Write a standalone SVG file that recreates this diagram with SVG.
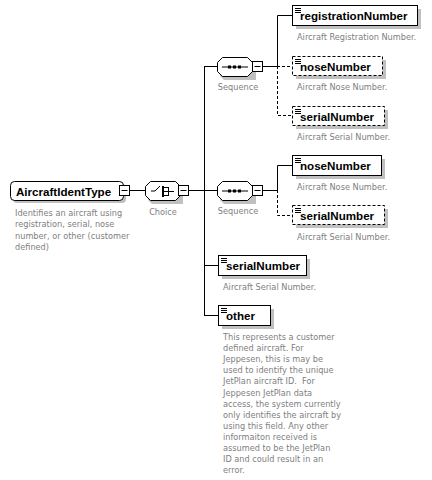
<svg xmlns="http://www.w3.org/2000/svg" width="432" height="480" viewBox="0 0 432 480">
<style>
.sh{fill:#c0c0c0;stroke:none}
.box{fill:#fff;stroke:#000;stroke-width:1}
.opt{fill:#fff;stroke:#000;stroke-width:1;stroke-dasharray:3,2}
.lbl{font-family:"Liberation Sans",Arial,sans-serif;font-weight:bold;font-size:11.6px;fill:#000}
.desc{font-family:"DejaVu Sans",Verdana,sans-serif;font-size:8.2px;fill:#808080}
.ln{stroke:#000;stroke-width:1;fill:none}
.dl{stroke:#000;stroke-width:1;fill:none;stroke-dasharray:3,2}
.ic{stroke:#000;stroke-width:1}
</style>
<defs>
<g id="mn"><rect x="0.5" y="0.5" width="10" height="10" class="box"/><line x1="2.5" y1="5.5" x2="8.5" y2="5.5" class="ic"/></g>
<g id="eq"><line x1="0" y1="0.5" x2="6" y2="0.5" class="ic"/><line x1="0" y1="2.5" x2="6" y2="2.5" class="ic"/><line x1="0" y1="4.5" x2="6" y2="4.5" class="ic"/></g>
</defs>

<g id="connectors">
<line x1="129" y1="190.5" x2="145" y2="190.5" class="ln"/>
<line x1="188" y1="190.5" x2="217" y2="190.5" class="ln"/>
<line x1="204.5" y1="66" x2="204.5" y2="316" class="ln"/>
<line x1="204" y1="66.5" x2="217" y2="66.5" class="ln"/>
<line x1="204" y1="265.5" x2="218" y2="265.5" class="ln"/>
<line x1="204" y1="315.5" x2="218" y2="315.5" class="ln"/>
<line x1="262" y1="66.5" x2="277" y2="66.5" class="ln"/>
<polyline points="277.5,66 277.5,15.5 292,15.5" class="ln"/>
<line x1="277" y1="66.5" x2="292" y2="66.5" class="dl"/>
<polyline points="277.5,66 277.5,115.5 292,115.5" class="dl"/>
<line x1="262" y1="190.5" x2="277" y2="190.5" class="ln"/>
<polyline points="277.5,190 277.5,165.5 292,165.5" class="ln"/>
<polyline points="277.5,190 277.5,215.5 292,215.5" class="dl"/>
</g>

<g id="AircraftIdentType">
<rect x="13" y="184" width="113" height="19" rx="4" class="sh"/>
<rect x="10.5" y="181.5" width="113" height="19" rx="4" class="box"/>
<text x="16" y="195.5" class="lbl">AircraftIdentType</text>
<use href="#mn" x="119" y="185"/>
<text class="desc"><tspan x="15" y="216">Identifies an aircraft using</tspan><tspan x="15" y="227.3">registration, serial, nose</tspan><tspan x="15" y="238.6">number, or other (customer</tspan><tspan x="15" y="249.9">defined)</tspan></text>
</g>

<g id="choice">
<polygon points="152,185 183,185 183,204 152,204 148,200 148,189" class="sh"/>
<polygon points="150.5,181.5 175.5,181.5 180.5,186.5 180.5,195.5 175.5,200.5 150.5,200.5 145.5,195.5 145.5,186.5" class="box"/>
<line x1="151" y1="191" x2="155" y2="191" class="ic"/>
<line x1="155" y1="191" x2="160" y2="186" class="ic"/>
<line x1="163" y1="187.5" x2="168" y2="187.5" class="ic"/>
<line x1="163" y1="191.5" x2="168" y2="191.5" class="ic"/>
<line x1="163" y1="195.5" x2="168" y2="195.5" class="ic"/>
<rect x="162" y="186" width="2" height="11" fill="#000"/>
<line x1="168.5" y1="187" x2="168.5" y2="196" class="ic"/>
<line x1="168" y1="191.5" x2="174" y2="191.5" class="ic"/>
<use href="#mn" x="178" y="185"/>
<text x="163" y="215" text-anchor="middle" class="desc">Choice</text>
</g>

<g id="sequence1">
<polygon points="224,61 256,61 256,80 224,80 220,76 220,65" class="sh"/>
<polygon points="222.5,57.5 247.5,57.5 252.5,62.5 252.5,71.5 247.5,76.5 222.5,76.5 217.5,71.5 217.5,62.5" class="box"/>
<line x1="222" y1="67" x2="248" y2="67" class="ic"/>
<rect x="228" y="65.5" width="3" height="3" fill="#000"/><rect x="233" y="65.5" width="3" height="3" fill="#000"/><rect x="238" y="65.5" width="3" height="3" fill="#000"/>
<use href="#mn" x="252" y="61"/>
<text x="238" y="90" text-anchor="middle" class="desc">Sequence</text>
</g>

<g id="registrationNumber">
<rect x="296" y="9" width="125" height="20" class="sh"/>
<rect x="292.5" y="5.5" width="125" height="20" class="box"/>
<use href="#eq" x="295" y="8"/>
<text x="300" y="20" class="lbl">registrationNumber</text>
<text x="297" y="40" class="desc">Aircraft Registration Number.</text>
</g>

<g id="noseNumber1">
<rect x="296" y="60" width="90" height="19" class="sh"/>
<rect x="292.5" y="56.5" width="90" height="19" class="opt"/>
<use href="#eq" x="295" y="59"/>
<text x="300" y="70.5" class="lbl">noseNumber</text>
<text x="297" y="90" class="desc">Aircraft Nose Number.</text>
</g>

<g id="serialNumber1">
<rect x="296" y="110" width="92" height="19" class="sh"/>
<rect x="292.5" y="106.5" width="92" height="19" class="opt"/>
<use href="#eq" x="295" y="109"/>
<text x="300" y="120.5" class="lbl">serialNumber</text>
<text x="297" y="140" class="desc">Aircraft Serial Number.</text>
</g>

<g id="sequence2">
<polygon points="224,185 256,185 256,204 224,204 220,200 220,189" class="sh"/>
<polygon points="222.5,181.5 247.5,181.5 252.5,186.5 252.5,195.5 247.5,200.5 222.5,200.5 217.5,195.5 217.5,186.5" class="box"/>
<line x1="222" y1="191" x2="248" y2="191" class="ic"/>
<rect x="228" y="189.5" width="3" height="3" fill="#000"/><rect x="233" y="189.5" width="3" height="3" fill="#000"/><rect x="238" y="189.5" width="3" height="3" fill="#000"/>
<use href="#mn" x="252" y="185"/>
<text x="238" y="214" text-anchor="middle" class="desc">Sequence</text>
</g>

<g id="noseNumber2">
<rect x="296" y="159" width="89" height="20" class="sh"/>
<rect x="292.5" y="155.5" width="89" height="20" class="box"/>
<use href="#eq" x="295" y="158"/>
<text x="300" y="170" class="lbl">noseNumber</text>
<text x="297" y="190" class="desc">Aircraft Nose Number.</text>
</g>

<g id="serialNumber2">
<rect x="296" y="209" width="92" height="19" class="sh"/>
<rect x="292.5" y="205.5" width="92" height="19" class="opt"/>
<use href="#eq" x="295" y="208"/>
<text x="300" y="219.5" class="lbl">serialNumber</text>
<text x="297" y="240" class="desc">Aircraft Serial Number.</text>
</g>

<g id="serialNumber3">
<rect x="222" y="259" width="88" height="20" class="sh"/>
<rect x="218.5" y="255.5" width="88" height="20" class="box"/>
<use href="#eq" x="221" y="258"/>
<text x="226" y="270" class="lbl">serialNumber</text>
<text x="223" y="290" class="desc">Aircraft Serial Number.</text>
</g>

<g id="other">
<rect x="222" y="309" width="52" height="20" class="sh"/>
<rect x="218.5" y="305.5" width="52" height="20" class="box"/>
<use href="#eq" x="221" y="308"/>
<text x="226" y="320" class="lbl">other</text>
<text class="desc"><tspan x="223" y="340">This represents a customer</tspan><tspan x="223" y="351.1">defined aircraft. For</tspan><tspan x="223" y="362.2">Jeppesen, this is may be</tspan><tspan x="223" y="373.3">used to identify the unique</tspan><tspan x="223" y="384.4">JetPlan aircraft ID.&#160; For</tspan><tspan x="223" y="395.5">Jeppesen JetPlan data</tspan><tspan x="223" y="406.6">access, the system currently</tspan><tspan x="223" y="417.7">only identifies the aircraft by</tspan><tspan x="223" y="428.8">using this field. Any other</tspan><tspan x="223" y="439.9">informaiton received is</tspan><tspan x="223" y="451">assumed to be the JetPlan</tspan><tspan x="223" y="462.1">ID and could result in an</tspan><tspan x="223" y="473.2">error.</tspan></text>
</g>
</svg>
